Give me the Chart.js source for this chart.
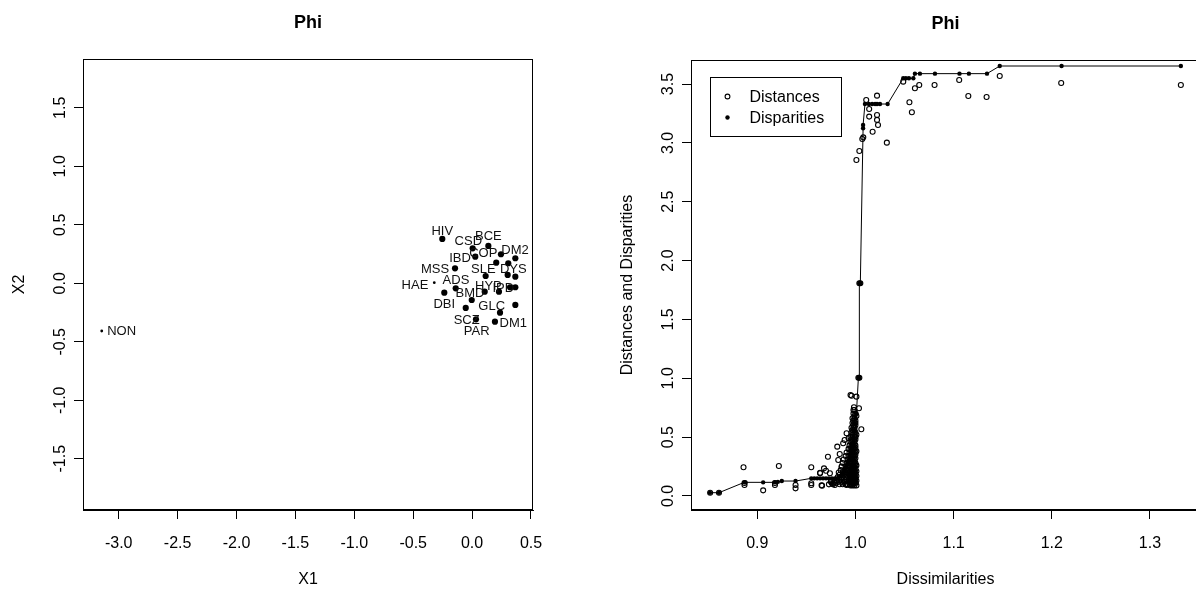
<!DOCTYPE html>
<html>
<head>
<meta charset="utf-8">
<script src="https://cdn.jsdelivr.net/npm/chart.js@4.4.0/dist/chart.umd.min.js"></script>
<style>
html, body { margin: 0; padding: 0; background: #fff; overflow: hidden; width: 1196px; height: 593px; }
#left { position: absolute; left: 0; top: 0; }
#right { position: absolute; left: 600px; top: 0; }
</style>
</head>
<body>
<canvas id="left" width="600" height="593"></canvas>
<canvas id="right" width="620" height="593"></canvas>
<script>
// ---- datos: configuracion MDS (panel izquierdo) ----
const mainTitle = 'Phi';
const x1Ticks = [-3.0, -2.5, -2.0, -1.5, -1.0, -0.5, 0.0, 0.5];
const x2Ticks = [-1.5, -1.0, -0.5, 0.0, 0.5, 1.0, 1.5];

const configX = [-0.253, 0.005, 0.138, 0.027, 0.245, 0.367, -0.145, 0.205, 0.307, -0.321, 0.115, 0.302, 0.367,
  -0.236, -0.139, 0.107, 0.228, 0.322, 0.367, -0.003, -0.054, 0.367, 0.237, 0.033, 0.194, -3.144];
const configY = [0.379, 0.299, 0.319, 0.227, 0.248, 0.214, 0.128, 0.176, 0.171, 0.005, 0.062, 0.071, 0.056,
  -0.080, -0.043, -0.072, -0.072, -0.034, -0.034, -0.143, -0.211, -0.185, -0.251, -0.308, -0.328, -0.408];

const labelNames = ['HIV', 'CSD', 'BCE', 'DM2', 'IBD', 'COP', 'MSS', 'SLE', 'DYS', 'HAE', 'ADS', 'HYP', 'IPD',
  'DBI', 'BMD', 'GLC', 'SCZ', 'PAR', 'DM1', 'NON'];
const labelX = [-0.253, -0.032, 0.138, 0.364, -0.103, 0.095, -0.315, 0.095, 0.350, -0.485, -0.137, 0.138, 0.265,
  -0.236, -0.018, 0.166, -0.046, 0.039, 0.350, -2.975];
const labelY = [0.441, 0.356, 0.398, 0.285, 0.214, 0.256, 0.120, 0.120, 0.120, -0.015, 0.022, -0.023, -0.043,
  -0.185, -0.085, -0.200, -0.314, -0.414, -0.342, -0.414];

// ---- datos: diagrama de Shepard (panel derecho) ----
const seriesNames = ['Distances', 'Disparities'];
const dissimTicks = [0.9, 1.0, 1.1, 1.2, 1.3];
const distTicks = [0.0, 0.5, 1.0, 1.5, 2.0, 2.5, 3.0, 3.5];

const distancesLow = [
  [0.852, 0.028], [0.861, 0.028], [0.886, 0.244], [0.887, 0.093], [0.887, 0.110], [0.906, 0.048],
  [0.918, 0.093], [0.918, 0.110], [0.922, 0.255], [0.939, 0.093], [0.939, 0.065], [0.955, 0.244],
  [0.955, 0.093], [0.955, 0.108], [0.964, 0.193], [0.964, 0.198], [0.966, 0.088], [0.9655, 0.091],
  [0.968, 0.235], [0.970, 0.215], [0.972, 0.334], [0.973, 0.099], [0.974, 0.193], [0.976, 0.108],
  [0.978, 0.113], [0.979, 0.093], [0.9815, 0.419], [0.9825, 0.306], [0.984, 0.357], [0.986, 0.249],
  [0.9875, 0.448], [0.988, 0.193], [0.989, 0.476], [0.991, 0.093], [0.991, 0.533], [0.993, 0.490],
  [0.995, 0.858], [0.996, 0.852], [0.9985, 0.754], [1.001, 0.844], [1.0036, 0.745], [1.006, 0.567],
  [0.975, 0.12], [0.977, 0.10], [0.979, 0.12], [0.980, 0.11], [0.981, 0.13]
];
const distancesMass = [
  [0.984, 0.10], [0.987, 0.10], [0.990, 0.10], [0.992, 0.10], [0.994, 0.10], [0.996, 0.10], [0.998, 0.10],
  [0.983, 0.12], [0.986, 0.12], [0.989, 0.12], [0.993, 0.12], [0.995, 0.12], [0.997, 0.12], [0.999, 0.12],
  [0.985, 0.14], [0.988, 0.14], [0.991, 0.14], [0.994, 0.14], [0.996, 0.14], [0.998, 0.14], [1.000, 0.14],
  [0.982, 0.16], [0.986, 0.16], [0.990, 0.16], [0.993, 0.16], [0.995, 0.16], [0.997, 0.16], [0.999, 0.16],
  [0.984, 0.18], [0.988, 0.18], [0.991, 0.18], [0.994, 0.18], [0.996, 0.18], [0.998, 0.18],
  [0.983, 0.20], [0.987, 0.20], [0.990, 0.20], [0.993, 0.20], [0.995, 0.20], [0.997, 0.20], [0.999, 0.20],
  [0.985, 0.22], [0.989, 0.22], [0.992, 0.22], [0.994, 0.22], [0.996, 0.22], [0.998, 0.22],
  [0.986, 0.25], [0.990, 0.25], [0.993, 0.25], [0.995, 0.25], [0.997, 0.25], [0.999, 0.25],
  [0.987, 0.28], [0.991, 0.28], [0.994, 0.28], [0.996, 0.28], [0.998, 0.28], [1.000, 0.28],
  [0.988, 0.31], [0.992, 0.31], [0.995, 0.31], [0.997, 0.31], [0.999, 0.31],
  [0.990, 0.34], [0.993, 0.34], [0.995, 0.34], [0.997, 0.34], [0.999, 0.34],
  [0.991, 0.37], [0.994, 0.37], [0.996, 0.37], [0.998, 0.37], [1.000, 0.37],
  [0.993, 0.40], [0.995, 0.40], [0.997, 0.40], [0.999, 0.40],
  [0.994, 0.43], [0.996, 0.43], [0.998, 0.43], [1.000, 0.43],
  [0.995, 0.46], [0.997, 0.46], [0.999, 0.46],
  [0.995, 0.50], [0.997, 0.50], [0.999, 0.50], [1.000, 0.50],
  [0.996, 0.54], [0.998, 0.54], [1.000, 0.54],
  [0.996, 0.58], [0.998, 0.58], [0.999, 0.58],
  [0.997, 0.62], [0.999, 0.62], [1.000, 0.62],
  [0.997, 0.66], [0.999, 0.66], [0.998, 0.70], [1.000, 0.70], [0.998, 0.73], [0.999, 0.73]
];
const distancesCore = [
  [0.995, 0.09], [0.997, 0.09], [0.999, 0.09], [1.001, 0.09], [0.996, 0.11], [0.998, 0.11], [1.000, 0.11],
  [0.995, 0.13], [0.997, 0.13], [0.999, 0.13], [1.001, 0.13], [0.996, 0.15], [0.998, 0.15], [1.000, 0.15],
  [0.995, 0.17], [0.997, 0.17], [0.999, 0.17], [1.001, 0.17], [0.996, 0.19], [0.998, 0.19], [1.000, 0.19],
  [0.995, 0.21], [0.997, 0.21], [0.999, 0.21], [1.001, 0.21], [0.996, 0.23], [0.998, 0.23], [1.000, 0.23],
  [0.996, 0.26], [0.998, 0.26], [1.000, 0.26], [1.001, 0.26], [0.995, 0.29], [0.997, 0.29], [0.999, 0.29],
  [0.996, 0.32], [0.998, 0.32], [1.000, 0.32], [0.996, 0.35], [0.998, 0.35], [1.000, 0.35],
  [0.997, 0.38], [0.999, 0.38], [1.001, 0.38], [0.996, 0.41], [0.998, 0.41], [1.000, 0.41],
  [0.997, 0.44], [0.999, 0.44], [0.996, 0.48], [0.998, 0.48], [1.000, 0.48],
  [0.997, 0.52], [0.999, 0.52], [1.001, 0.52], [0.997, 0.56], [0.999, 0.56],
  [0.998, 0.60], [1.000, 0.60], [0.998, 0.64], [1.000, 0.64], [0.999, 0.68], [1.001, 0.68]
];
const distancesHigh = [
  [1.003, 1.005], [1.004, 1.005], [1.004, 1.807], [1.005, 1.807],
  [1.001, 2.855], [1.004, 2.931], [1.007, 3.033], [1.008, 3.047], [1.011, 3.364], [1.014, 3.288],
  [1.014, 3.223], [1.0175, 3.095], [1.022, 3.401], [1.022, 3.237], [1.022, 3.195], [1.023, 3.152],
  [1.032, 3.002], [1.0487, 3.520], [1.055, 3.345], [1.0575, 3.260], [1.0606, 3.464], [1.065, 3.492],
  [1.0806, 3.492], [1.1057, 3.534], [1.115, 3.398], [1.1336, 3.390], [1.147, 3.568], [1.2096, 3.509],
  [1.3315, 3.492]
];
const disparities = [
  [0.8518, 0.028], [0.861, 0.028], [0.8868, 0.116], [0.888, 0.116], [0.906, 0.116], [0.918, 0.116],
  [0.921, 0.120], [0.925, 0.127], [0.939, 0.127], [0.955, 0.150], [0.958, 0.150], [0.961, 0.150],
  [0.964, 0.150], [0.967, 0.150], [0.970, 0.150], [0.973, 0.150], [0.976, 0.150], [0.979, 0.150],
  [0.981, 0.150], [0.983, 0.16], [0.985, 0.17], [0.986, 0.18], [0.987, 0.19], [0.988, 0.20],
  [0.989, 0.22], [0.990, 0.24], [0.991, 0.26], [0.992, 0.28], [0.993, 0.30], [0.994, 0.33],
  [0.995, 0.36], [0.996, 0.40], [0.997, 0.44], [0.998, 0.49], [0.999, 0.55], [0.9995, 0.61],
  [1.000, 0.66], [1.001, 0.70], [1.003, 1.005], [1.004, 1.005], [1.004, 1.807], [1.005, 1.807],
  [1.0078, 3.124], [1.0078, 3.152], [1.0097, 3.330], [1.0137, 3.330], [1.017, 3.330], [1.020, 3.330],
  [1.022, 3.330], [1.025, 3.330], [1.0328, 3.330], [1.0487, 3.549], [1.0514, 3.549], [1.0545, 3.549],
  [1.059, 3.549], [1.0606, 3.588], [1.0657, 3.588], [1.081, 3.588], [1.106, 3.588], [1.1156, 3.588],
  [1.134, 3.588], [1.147, 3.653], [1.210, 3.653], [1.3315, 3.653]
];

// ---- estilo ----
const FONT = "'Liberation Sans', Arial, sans-serif";
const smallDots = [9, 25];
const toXY = arr => arr.map(p => ({ x: p[0], y: p[1] }));

function axisScale(min, max, ticks, size, isX, showLabels) {
  return {
    type: 'linear',
    min: min,
    max: max,
    afterBuildTicks: s => { s.ticks = ticks.map(v => ({ value: v })); },
    afterFit: s => { if (isX) s.height = size; else s.width = size; },
    ticks: {
      display: showLabels,
      autoSkip: false,
      maxRotation: 0,
      padding: 15,
      color: '#000',
      font: { family: FONT, size: 16 },
      callback: v => Number(v).toFixed(1)
    },
    grid: { drawOnChartArea: false, drawTicks: true, tickLength: 9, tickColor: '#000', lineWidth: 1 },
    border: { display: true, color: '#000', width: 1 }
  };
}

// Dibuja caja, etiquetas del eje Y giradas, titulos
function frame(opts) {
  return {
    id: 'frame',
    afterDraw(chart) {
      const ctx = chart.ctx;
      const a = chart.chartArea;
      const ys = chart.scales.y;
      ctx.save();
      ctx.strokeStyle = '#000';
      ctx.lineWidth = 1;
      ctx.strokeRect(Math.round(a.left) + 0.5, Math.round(a.top) + 0.5,
        Math.round(a.right - a.left) - 1, Math.round(a.bottom - a.top) - 1);
      ctx.fillStyle = '#000';
      ctx.font = '16px ' + FONT;
      ctx.textAlign = 'center';
      ctx.textBaseline = 'alphabetic';
      opts.yTicks.forEach(v => {
        ctx.save();
        ctx.translate(a.left - 18, ys.getPixelForValue(v));
        ctx.rotate(-Math.PI / 2);
        ctx.fillText(v.toFixed(1), 0, 0);
        ctx.restore();
      });
      const cx = (a.left + a.right) / 2;
      ctx.textBaseline = 'middle';
      ctx.fillText(opts.xTitle, cx, a.bottom + 70);
      ctx.save();
      ctx.translate(a.left - 63, (a.top + a.bottom) / 2);
      ctx.rotate(-Math.PI / 2);
      ctx.fillText(opts.yTitle, 0, 0);
      ctx.restore();
      ctx.font = 'bold 18px ' + FONT;
      ctx.fillText(mainTitle, cx, a.top - 36);
      if (opts.extra) opts.extra(chart, ctx);
      ctx.restore();
    }
  };
}

// etiquetas de los puntos
function drawPointLabels(chart, ctx) {
  const xs = chart.scales.x, ys = chart.scales.y;
  ctx.font = '13px ' + FONT;
  ctx.fillStyle = '#111';
  ctx.textAlign = 'center';
  ctx.textBaseline = 'middle';
  labelNames.forEach((name, i) => {
    ctx.fillText(name, xs.getPixelForValue(labelX[i]), ys.getPixelForValue(labelY[i]));
  });
}

// leyenda estilo R
function drawLegend(chart, ctx) {
  const a = chart.chartArea;
  const bx = Math.round(a.left) + 19.5, by = Math.round(a.top) + 17.5;
  ctx.strokeStyle = '#000';
  ctx.lineWidth = 1;
  ctx.strokeRect(bx, by, 131, 59);
  ctx.font = '16px ' + FONT;
  ctx.fillStyle = '#000';
  ctx.textAlign = 'left';
  ctx.textBaseline = 'middle';
  seriesNames.forEach((name, i) => {
    const sy = by + 19 + i * 21;
    ctx.beginPath();
    ctx.arc(bx + 17, sy, i === 0 ? 2.4 : 2.2, 0, Math.PI * 2);
    if (i === 0) { ctx.lineWidth = 1.1; ctx.stroke(); } else { ctx.fill(); }
    ctx.fillText(name, bx + 39, sy + 1);
  });
}

new Chart(document.getElementById('left'), {
  type: 'scatter',
  data: {
    datasets: [{
      data: configX.map((x, i) => ({ x: x, y: configY[i] })),
      pointRadius: ctx => smallDots.includes(ctx.dataIndex) ? 1.4 : 3.1,
      pointBackgroundColor: '#000',
      pointBorderWidth: 0
    }]
  },
  options: {
    responsive: false,
    animation: false,
    devicePixelRatio: 1,
    events: [],
    layout: { padding: { left: 0, top: 59, right: 67, bottom: 0 } },
    plugins: { legend: { display: false }, tooltip: { enabled: false } },
    scales: {
      x: axisScale(-3.303, 0.517, x1Ticks, 83, true, true),
      y: axisScale(-1.938, 1.917, x2Ticks, 83, false, false)
    }
  },
  plugins: [frame({ yTicks: x2Ticks, xTitle: 'X1', yTitle: 'X2', extra: drawPointLabels })]
});

new Chart(document.getElementById('right'), {
  type: 'scatter',
  data: {
    datasets: [
      {
        label: seriesNames[1],
        data: toXY(disparities),
        showLine: true,
        borderColor: '#000',
        borderWidth: 1,
        pointRadius: 2.2,
        pointBackgroundColor: '#000',
        pointBorderWidth: 0
      },
      {
        label: seriesNames[0],
        data: toXY(distancesLow.concat(distancesMass, distancesCore, distancesHigh)),
        pointRadius: 2.5,
        pointBorderColor: '#000',
        pointBorderWidth: 1.1,
        pointBackgroundColor: 'rgba(0,0,0,0)'
      }
    ]
  },
  options: {
    responsive: false,
    animation: false,
    devicePixelRatio: 1,
    events: [],
    layout: { padding: { left: 0, top: 60, right: 20, bottom: 0 } },
    plugins: { legend: { display: false }, tooltip: { enabled: false } },
    scales: {
      x: axisScale(0.8325, 1.351, dissimTicks, 83, true, true),
      y: axisScale(-0.119, 3.704, distTicks, 91, false, false)
    }
  },
  plugins: [frame({ yTicks: distTicks, xTitle: 'Dissimilarities', yTitle: 'Distances and Disparities', extra: drawLegend })]
});
</script>
</body>
</html>
